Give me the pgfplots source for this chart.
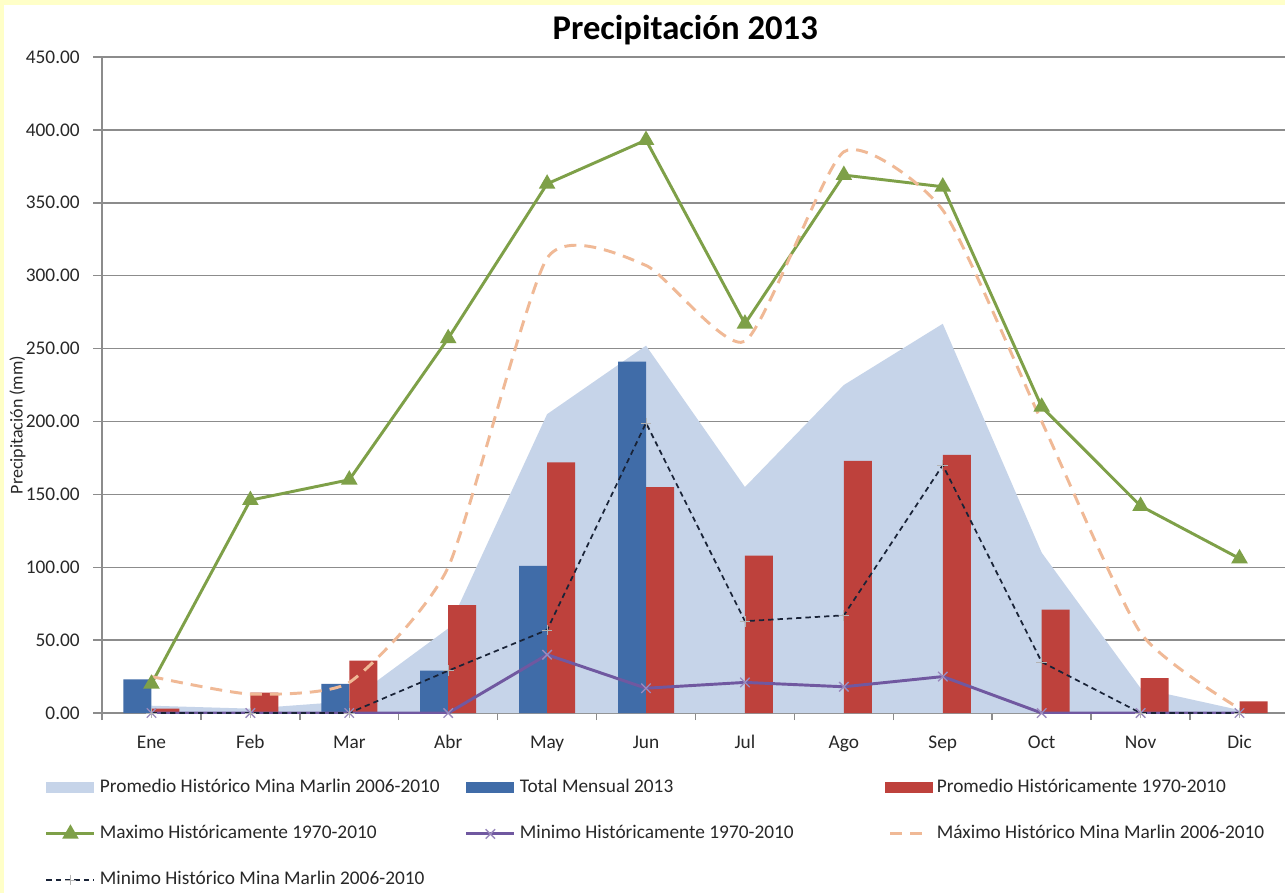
\documentclass[border=0pt]{standalone}
\usepackage{pgfplots}
\pgfplotsset{compat=1.18}
\usepackage{fontspec}
\setmainfont{Carlito}
\definecolor{bgyellow}{RGB}{255,255,200}
\definecolor{areablue}{RGB}{198,212,233}
\definecolor{barblue}{RGB}{64,108,168}
\definecolor{barred}{RGB}{190,65,60}
\definecolor{lgreen}{RGB}{126,160,72}
\definecolor{lpurple}{RGB}{112,88,160}
\definecolor{lorange}{RGB}{240,185,150}
\definecolor{ldark}{RGB}{25,35,55}
\definecolor{gridgray}{RGB}{140,140,140}
\definecolor{txtgray}{RGB}{40,40,40}
\newcommand{\lb}[1]{\makebox[273.75pt][l]{#1}}
\pgfplotsset{
  patchlegend/.style={legend image code/.code={\fill[#1] (0pt,-4.1pt) rectangle (36pt,4.1pt);}},
  linelegend/.style={legend image code/.code={\draw[mark repeat=2,mark phase=2,##1] plot coordinates {(0pt,0pt)(18pt,0pt)(36pt,0pt)};}},
  shortlegend/.style={legend image code/.code={\draw[##1] (4pt,0pt) -- (30pt,0pt);}},
}
\begin{document}
\begin{tikzpicture}
\fill[bgyellow] (0,0) rectangle (963.75pt,-669.75pt);
\fill[white] (3pt,-3.75pt) rectangle (963.75pt,-669.75pt);
\begin{axis}[
  scale only axis,
  width=887.25pt, height=492pt,
  at={(76.5pt,-534.75pt)}, anchor=south west,
  xmin=-0.5, xmax=11.46,
  ymin=0, ymax=450,
  ytick={0,50,...,450},
  ymajorgrids, grid style={gridgray, line width=1.1pt},
  axis lines*=left, axis line style={gridgray, line width=1.1pt, -},
  xtick={0,...,11},
  xticklabels={Ene,Feb,Mar,Abr,May,Jun,Jul,Ago,Sep,Oct,Nov,Dic},
  minor xtick={-0.5,0.5,...,10.5},
  major x tick style={draw=none},
  minor x tick style={gridgray, line width=1.1pt},
  y tick style={gridgray, line width=1.1pt},
  tick align=outside,
  major tick length=6.75pt, minor tick length=5.25pt,
  tick label style={font=\fontsize{14.5}{17}\selectfont, text=txtgray},
  yticklabel style={anchor=east, inner sep=0pt, xshift=-9.75pt,
    /pgf/number format/.cd, fixed, fixed zerofill, precision=2, assume math mode=true},
  xticklabel style={anchor=base, inner sep=0pt, yshift=-19.5pt},
  title={Precipitación 2013},
  title style={font=\fontsize{26}{31}\selectfont\bfseries, at={(0.493,1.029)}, anchor=center},
  ylabel={Precipitación (mm)},
  ylabel style={at={(-0.0715,0.439)}, anchor=center, font=\fontsize{13.5}{16}\selectfont, text=txtgray},
  legend columns=3,
  legend cell align=left,
  legend style={draw=none, fill=none, at={(-0.0482,-0.101)}, anchor=north west,
    inner sep=0pt, outer sep=0pt,
    nodes={inner sep=0pt, text height=10pt, text depth=3pt, font=\fontsize{14.5}{17}\selectfont, text=txtgray},
    /tikz/row sep=21.5pt,
    /tikz/every odd column/.append style={column sep=3pt}},
]
% Promedio Historico Mina Marlin 2006-2010 (area)
\addplot[fill=areablue, draw=none, patchlegend=areablue]
  coordinates {(0,5)(1,3)(2,8)(3,58)(4,205)(5,252)(6,155)(7,225)(8,267)(9,110)(10,17)(11,2)} \closedcycle;
\addlegendentry{\lb{Promedio Histórico Mina Marlin 2006-2010}}
% Total Mensual 2013
\addplot[ybar, bar width=21pt, bar shift=-10.5pt, fill=barblue, draw=none, patchlegend=barblue]
  coordinates {(0,23)(2,20)(3,29)(4,101)(5,241)};
\addlegendentry{\lb{Total Mensual 2013}}
% Promedio Historicamente 1970-2010
\addplot[ybar, bar width=21pt, bar shift=10.5pt, fill=barred, draw=none, patchlegend=barred]
  coordinates {(0,3)(1,14)(2,36)(3,74)(4,172)(5,155)(6,108)(7,173)(8,177)(9,71)(10,24)(11,8)};
\addlegendentry{Promedio Históricamente 1970-2010}
% Maximo Historicamente 1970-2010
\addplot[lgreen, line width=2.2pt, mark=triangle*, mark size=5pt, mark options={solid}, linelegend]
  coordinates {(0,20)(1,146)(2,160)(3,257)(4,363)(5,393)(6,267)(7,369)(8,361)(9,210)(10,142)(11,106)};
\addlegendentry{\lb{Maximo Históricamente 1970-2010}}
% Minimo Historicamente 1970-2010
\addplot[lpurple, line width=2.2pt, mark=x, mark size=5pt, mark options={line width=1pt, color=lpurple!70}, linelegend]
  coordinates {(0,0)(1,0)(2,0)(3,0)(4,40)(5,17)(6,21)(7,18)(8,25)(9,0)(10,0)(11,0)};
\addlegendentry{\lb{Minimo Históricamente 1970-2010}}
% Maximo Historico Mina Marlin 2006-2010
\addplot[lorange, line width=2.2pt, dash pattern=on 9pt off 6pt, smooth, tension=0.35, shortlegend]
  coordinates {(0,25)(1,13)(2,21)(3,100)(4,312)(5,307)(6,255)(7,385)(8,345)(9,200)(10,55)(11,3)};
\addlegendentry{Máximo Histórico Mina Marlin 2006-2010}
% Minimo Historico Mina Marlin 2006-2010
\addplot[ldark, line width=1.3pt, dash pattern=on 4pt off 3pt, mark=+, mark size=4pt, mark options={solid, line width=0.6pt, color=gray!60}, linelegend]
  coordinates {(0,0)(1,0)(2,0)(3,29)(4,57)(5,199)(6,63)(7,67)(8,170)(9,35)(10,0)(11,0)};
\addlegendentry{Minimo Histórico Mina Marlin 2006-2010}
\end{axis}
\pgfresetboundingbox
\path[use as bounding box] (0,0) rectangle (963.75pt,-669.75pt);
\end{tikzpicture}
\end{document}
